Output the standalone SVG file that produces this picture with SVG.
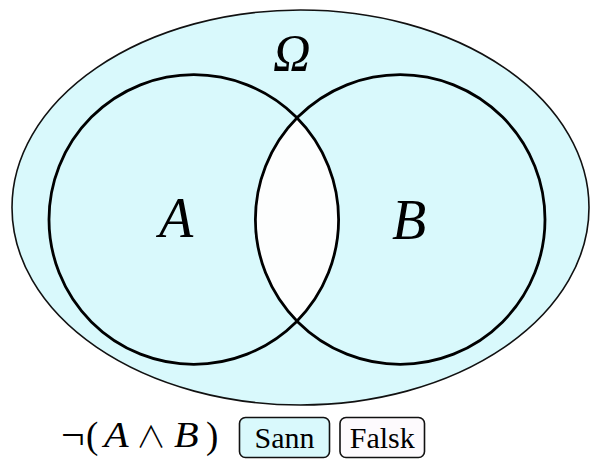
<svg xmlns="http://www.w3.org/2000/svg" width="600" height="471" viewBox="0 0 600 471">
<style>
.set{fill:none;stroke:#000;stroke-width:2.8}
.math{font-family:"Liberation Serif","DejaVu Serif",serif;fill:#000}
.it{font-style:italic}
.op{font-family:"Noto Sans CJK JP","DejaVu Sans",sans-serif;font-weight:300}
.btn{stroke:#111;stroke-width:1.6}
</style>
<rect width="600" height="471" fill="#fff"/>
<g id="omega">
<ellipse cx="300.5" cy="207.5" rx="288.5" ry="197.5" fill="#d9f9fc" stroke="#111" stroke-width="1.6"/>
<text class="math it" x="273" y="71" font-size="52">Ω</text>
</g>
<g id="intersection">
<path d="M297,117.9 A144.8,144.8 0 0 1 297,321.1 A144.8,144.8 0 0 1 297,117.9 Z" fill="#fdfefe"/>
</g>
<g id="setA">
<circle class="set" cx="193.8" cy="219.5" r="144.8"/>
<text class="math it" x="159" y="237" font-size="56">A</text>
</g>
<g id="setB">
<circle class="set" cx="400.2" cy="219.5" r="144.8"/>
<text class="math it" x="392" y="239" font-size="56">B</text>
</g>
<g id="formula" class="math">
<text x="61" y="449" font-size="42">¬</text>
<text x="86" y="448" font-size="37">(</text>
<text class="it" transform="translate(104,447) scale(1.15,1)" font-size="35">A</text>
<text class="op" x="151" y="447" font-size="30" text-anchor="middle">∧</text>
<text class="it" transform="translate(174,447) scale(1.15,1)" font-size="35">B</text>
<text x="206" y="448" font-size="37">)</text>
</g>
<g id="sann">
<rect class="btn" x="239.5" y="417.5" width="90" height="40" rx="6" fill="#d9f9fc"/>
<text class="math" x="284.5" y="448" font-size="30" text-anchor="middle">Sann</text>
</g>
<g id="falsk">
<rect class="btn" x="340" y="417.5" width="84.5" height="40" rx="6" fill="#fdfafd"/>
<text class="math" x="382.3" y="448" font-size="30" text-anchor="middle">Falsk</text>
</g>
</svg>
